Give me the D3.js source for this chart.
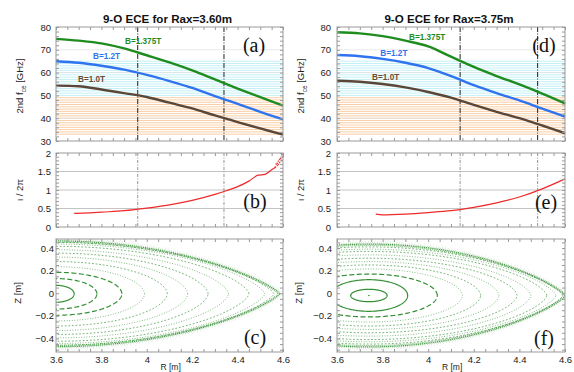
<!DOCTYPE html>
<html>
<head>
<meta charset="utf-8">
<script src="https://cdn.jsdelivr.net/npm/d3@7"></script>
<style>
  body { margin: 0; background: #fff; }
  svg { display: block; font-family: Arial, "Liberation Sans", sans-serif; }
  .minor line { stroke: #999; }
  .minor .domain { display: none; }
  .lbl .domain { display: none; }
  .lbl text { fill: #222; font-size: 9.5px; }
</style>
</head>
<body>
<div id="chart"></div>
<script>
// ---- data ----
const rSample = [3.6, 3.7, 3.8, 3.9, 4.0, 4.1, 4.2, 4.3, 4.4, 4.5, 4.6];

// 2nd harmonic ECE frequency [GHz], Rax = 3.60 m
const fceA_B1375 = [74.8, 74.0, 72.8, 70.6, 67.6, 64.5, 61.0, 57.0, 53.0, 49.2, 45.5];
const fceA_B12 = [65.0, 64.3, 63.0, 61.3, 59.0, 56.3, 53.3, 49.7, 46.3, 42.8, 39.5];
const fceA_B10 = [54.3, 54.0, 52.6, 51.0, 49.3, 46.8, 44.3, 41.2, 38.3, 35.5, 32.8];
// Rax = 3.75 m
const fceD_B1375 = [77.7, 77.2, 76.0, 74.0, 71.5, 67.0, 62.5, 58.5, 54.8, 50.8, 46.5];
const fceD_B12 = [67.7, 67.2, 66.0, 64.3, 62.0, 58.5, 54.5, 51.0, 47.8, 44.2, 40.7];
const fceD_B10 = [56.4, 56.0, 55.0, 53.5, 51.5, 49.0, 45.8, 42.8, 40.0, 36.8, 33.4];

const bandCyan = [50, 65];
const bandOrange = [33, 49];
const vlinesA = [3.96, 4.34];
const vlinesD = [4.14, 4.48];

// rotational transform iota / 2pi
const iotaR_B = [3.68, 3.75, 3.8, 3.9, 4.0, 4.1, 4.2, 4.3, 4.35, 4.4, 4.45, 4.49, 4.52, 4.55, 4.57];
const iota_B = [0.37, 0.38, 0.40, 0.44, 0.51, 0.60, 0.72, 0.88, 0.98, 1.09, 1.24, 1.40, 1.42, 1.55, 1.62];
const iotaScatterR_B = [4.565, 4.57, 4.575, 4.58, 4.585, 4.59, 4.595, 4.6, 4.575, 4.585, 4.595, 4.58];
const iotaScatter_B = [1.62, 1.70, 1.66, 1.78, 1.74, 1.85, 1.80, 1.90, 1.72, 1.83, 1.95, 1.69];
const iotaR_E = [3.77, 3.8, 3.9, 4.0, 4.1, 4.2, 4.3, 4.4, 4.5, 4.6];
const iota_E = [0.35, 0.33, 0.35, 0.39, 0.44, 0.53, 0.65, 0.81, 1.03, 1.30];

// Poincare plot: flux surfaces (outer R extent from axis, half height)
const raxC = 3.60;
const surfC_aR = [0.08, 0.18, 0.29, 0.39, 0.49, 0.58, 0.67, 0.76, 0.85, 0.92, 0.96];
const surfC_h = [0.075, 0.135, 0.19, 0.24, 0.285, 0.325, 0.36, 0.39, 0.42, 0.44, 0.455];
const edgeC = {aR: 0.985, h: 0.468};
const raxF = 3.74;
const surfF_aR = [0.08, 0.17, 0.30, 0.41, 0.49, 0.57, 0.65, 0.71, 0.78, 0.82, 0.85];
const surfF_h = [0.055, 0.14, 0.19, 0.235, 0.27, 0.30, 0.33, 0.36, 0.39, 0.41, 0.43];
const edgeF = {aR: 0.862, h: 0.455};

const xTicks = [3.6, 3.8, 4.0, 4.2, 4.4, 4.6];

// ---- layout ----
const svg = d3.select('#chart').append('svg').attr('width', 574).attr('height', 372);
const cols = [{left: 56, right: 283}, {left: 337, right: 565}];
const rowFce = [27, 141], rowIota = [153, 227], rowPc = [239, 352];

const green = '#1e8c1e', blue = '#2f74ee', brown = '#5a4738';
const pcGreen = '#2a8a2a';

const panels = [
  {title: '9-O ECE for Rax=3.60m', fce: [fceA_B1375, fceA_B12, fceA_B10], vlines: vlinesA,
   blabels: [[3.904, 72.4], [3.763, 65.8], [3.697, 56.0]],
   iotaR: iotaR_B, iota: iota_B, scatterR: iotaScatterR_B, scatter: iotaScatter_B,
   rax: raxC, aR: surfC_aR, h: surfC_h, edge: edgeC, zc: -0.005, solid: 1,
   letters: [['(a)', 254, 52], ['(b)', 255, 208], ['(c)', 255, 344]], tickPad: 5},
  {title: '9-O ECE for Rax=3.75m', fce: [fceD_B1375, fceD_B12, fceD_B10], vlines: vlinesD,
   blabels: [[3.916, 74.3], [3.79, 67.1], [3.754, 56.9]],
   iotaR: iotaR_E, iota: iota_E, scatterR: [], scatter: [],
   rax: raxF, aR: surfF_aR, h: surfF_h, edge: edgeF, zc: -0.02, solid: 2,
   letters: [['(d)', 544, 52], ['(e)', 546, 209], ['(f)', 544, 345]], tickPad: 6}
];

function minorTicks(g, x, y, xMinor, yMinor) {
  const [x0, x1] = x.range();
  const [yb, yt] = y.range();
  g.append('g').attr('class', 'minor').attr('transform', `translate(0,${yb})`)
    .call(d3.axisBottom(x).tickValues(xMinor).tickSize(-3).tickFormat(''));
  g.append('g').attr('class', 'minor').attr('transform', `translate(0,${yt})`)
    .call(d3.axisTop(x).tickValues(xMinor).tickSize(-3).tickFormat(''));
  g.append('g').attr('class', 'minor').attr('transform', `translate(${x0},0)`)
    .call(d3.axisLeft(y).tickValues(yMinor).tickSize(-3).tickFormat(''));
  g.append('g').attr('class', 'minor').attr('transform', `translate(${x1},0)`)
    .call(d3.axisRight(y).tickValues(yMinor).tickSize(-3).tickFormat(''));
}

function frame(g, x, y) {
  g.append('rect')
    .attr('x', x.range()[0]).attr('y', y.range()[1])
    .attr('width', x.range()[1] - x.range()[0]).attr('height', y.range()[0] - y.range()[1])
    .attr('fill', 'none').attr('stroke', '#999').attr('stroke-width', 1);
}

function surfacePoints(rax, aR, h, zc, n) {
  return d3.range(0, 360.1, 1.5).map(deg => {
    const t = deg * Math.PI / 180, s = Math.sin(t);
    return [rax + aR * Math.cos(t), zc + h * Math.sign(s) * Math.pow(Math.abs(s), 2 / n)];
  });
}

panels.forEach((p, ci) => {
  const col = cols[ci];
  const g = svg.append('g');
  const x = d3.scaleLinear().domain([3.6, 4.6]).range([col.left, col.right]);
  const cx = (col.left + col.right) / 2;

  g.append('text').attr('x', cx - 2).attr('y', 22.5).attr('text-anchor', 'middle')
    .attr('font-size', 11.6).attr('font-weight', 'bold').attr('fill', '#111').text(p.title);

  // ---- frequency panel ----
  const yF = d3.scaleLinear().domain([30, 80]).range([rowFce[1], rowFce[0]]);
  const stripes = g.append('g');
  stripes.selectAll('.cy').data(d3.range(bandCyan[0], bandCyan[1] + 0.01, 1)).join('line')
    .attr('x1', x(3.6)).attr('x2', x(4.6)).attr('y1', d => yF(d)).attr('y2', d => yF(d))
    .attr('stroke', '#c4f0f7').attr('stroke-width', 1);
  stripes.selectAll('.or').data(d3.range(bandOrange[0], bandOrange[1] + 0.01, 1)).join('line')
    .attr('x1', x(3.6)).attr('x2', x(4.6)).attr('y1', d => yF(d)).attr('y2', d => yF(d))
    .attr('stroke', '#fbcfa6').attr('stroke-width', 1);
  g.selectAll(null).data([40, 60, 70]).join('line')
    .attr('x1', x(3.6)).attr('x2', x(4.6)).attr('y1', d => yF(d)).attr('y2', d => yF(d))
    .attr('stroke', '#e2e2e2').attr('stroke-width', 0.8);

  g.selectAll(null).data(p.vlines).join('line')
    .attr('x1', d => x(d)).attr('x2', d => x(d)).attr('y1', yF(80)).attr('y2', yF(30))
    .attr('stroke', '#222').attr('stroke-width', 1).attr('stroke-dasharray', '5,1.5,1,1.5');

  const line = d3.line().x((d, i) => x(rSample[i])).y(d => yF(d)).curve(d3.curveCatmullRom);
  [green, blue, brown].forEach((c, i) => {
    g.append('path').attr('d', line(p.fce[i])).attr('fill', 'none')
      .attr('stroke', c).attr('stroke-width', 2.4);
  });
  const bnames = ['B=1.375T', 'B=1.2T', 'B=1.0T'];
  const bcols = [green, blue, '#6b4a32'];
  p.blabels.forEach((b, i) => {
    g.append('text').attr('x', x(b[0])).attr('y', yF(b[1])).attr('font-size', 8.2)
      .attr('font-weight', 'bold').attr('fill', bcols[i]).text(bnames[i]);
  });

  minorTicks(g, x, yF, d3.range(3.6, 4.601, 0.05), d3.range(30, 80.1, 2));
  frame(g, x, yF);
  g.append('g').attr('class', 'lbl').attr('transform', `translate(${col.left},0)`)
    .call(d3.axisLeft(yF).tickValues([30, 40, 50, 60, 70, 80]).tickSize(0).tickPadding(p.tickPad));

  // ---- iota panel ----
  const yI = d3.scaleLinear().domain([0, 2]).range([rowIota[1], rowIota[0]]);
  g.selectAll(null).data([0.5, 1, 1.5]).join('line')
    .attr('x1', x(3.6)).attr('x2', x(4.6)).attr('y1', d => yI(d)).attr('y2', d => yI(d))
    .attr('stroke', '#c4c4c4').attr('stroke-width', 1);
  g.selectAll(null).data(p.vlines).join('line')
    .attr('x1', d => x(d)).attr('x2', d => x(d)).attr('y1', yI(2)).attr('y2', yI(0))
    .attr('stroke', '#888').attr('stroke-width', 0.9).attr('stroke-dasharray', '3,1.5,1,1.5');
  const iotaLine = d3.line().x((d, i) => x(p.iotaR[i])).y(d => yI(d)).curve(d3.curveMonotoneX);
  g.append('path').attr('d', iotaLine(p.iota)).attr('fill', 'none')
    .attr('stroke', '#ee2a2a').attr('stroke-width', 1.2);
  g.selectAll(null).data(p.scatter).join('rect')
    .attr('x', (d, i) => x(p.scatterR[i]) - 0.7).attr('y', d => yI(d) - 0.7)
    .attr('width', 1.4).attr('height', 1.4).attr('fill', '#f04040');
  minorTicks(g, x, yI, d3.range(3.6, 4.601, 0.05), d3.range(0, 2.01, 0.1));
  frame(g, x, yI);
  g.append('g').attr('class', 'lbl').attr('transform', `translate(${col.left},0)`)
    .call(d3.axisLeft(yI).tickValues([0, 0.5, 1, 1.5, 2]).tickSize(0).tickPadding(p.tickPad)
      .tickFormat(d3.format('~g')));

  // ---- Poincare panel ----
  const yP = d3.scaleLinear().domain([-0.52, 0.48]).range([rowPc[1], rowPc[0]]);
  const clipId = 'clip' + ci;
  g.append('clipPath').attr('id', clipId).append('rect')
    .attr('x', col.left).attr('y', rowPc[0]).attr('width', col.right - col.left)
    .attr('height', rowPc[1] - rowPc[0]);
  const pc = g.append('g').attr('clip-path', `url(#${clipId})`);
  const pline = d3.line().x(d => x(d[0])).y(d => yP(d[1]));
  const nS = p.aR.length;
  p.aR.forEach((a, i) => {
    const n = 2 - 0.75 * Math.pow(i / nS, 1.5);
    const dash = i < p.solid ? null : i < 3 ? '5,2.5' : i % 2 ? '0.9,1.7' : '1.8,1.8';
    pc.append('path').attr('d', pline(surfacePoints(p.rax, a, p.h[i], p.zc, n)))
      .attr('fill', 'none').attr('stroke', pcGreen)
      .attr('stroke-width', i < 3 ? 1.2 : 0.9)
      .attr('stroke-opacity', i < 3 ? 0.95 : 0.7)
      .attr('stroke-dasharray', dash);
  });
  // stochastic edge layer
  [[0.975, 0.9, '1,1', 0.75], [1.0, 1.3, '1.2,0.7', 0.85], [1.025, 0.8, '0.7,1.5', 0.5],
   [1.05, 0.7, '0.6,2.5', 0.35], [1.08, 0.6, '0.5,4', 0.25]].forEach(s => {
    pc.append('path')
      .attr('d', pline(surfacePoints(p.rax, p.edge.aR * (1 + (s[0] - 1) * 0.35), p.edge.h * s[0], p.zc, 1.25)))
      .attr('fill', 'none').attr('stroke', pcGreen).attr('stroke-width', s[1])
      .attr('stroke-dasharray', s[2]).attr('stroke-opacity', s[3]);
  });
  if (ci === 1) {
    pc.append('circle').attr('cx', x(p.rax)).attr('cy', yP(p.zc)).attr('r', 0.8).attr('fill', pcGreen);
  }
  minorTicks(g, x, yP, d3.range(3.6, 4.601, 0.05), d3.range(-0.5, 0.481, 0.05));
  frame(g, x, yP);
  g.append('g').attr('class', 'lbl').attr('transform', `translate(${col.left},0)`)
    .call(d3.axisLeft(yP).tickValues([-0.4, -0.2, 0, 0.2, 0.4]).tickSize(0).tickPadding(ci ? 5 : 2)
      .tickFormat(d3.format('~g')));
  g.append('g').attr('class', 'lbl').attr('transform', `translate(0,${rowPc[1]})`)
    .call(d3.axisBottom(x).tickValues(xTicks).tickSize(0).tickPadding(4).tickFormat(d3.format('~g')));

  // axis titles
  const yl = g.append('text').attr('transform', `translate(${col.left - 33},86) rotate(-90)`)
    .attr('text-anchor', 'middle').attr('font-size', 9.5).attr('fill', '#222');
  yl.append('tspan').text('2nd f');
  yl.append('tspan').attr('font-size', 6.5).attr('dy', 2.5).text('ce');
  yl.append('tspan').attr('dy', -2.5).text(' [GHz]');
  g.append('text').attr('transform', `translate(${col.left - 33},190) rotate(-90)`)
    .attr('text-anchor', 'middle').attr('font-size', 9.5).attr('fill', '#222').text('\u03b9 / 2\u03c0');
  g.append('text').attr('transform', `translate(${col.left - 35},293) rotate(-90)`)
    .attr('text-anchor', 'middle').attr('font-size', 9.5).attr('fill', '#222').text('Z [m]');
  g.append('text').attr('x', x(4.105)).attr('y', 370).attr('text-anchor', 'middle')
    .attr('font-size', 8.5).attr('fill', '#222').text('R  [m]');

  p.letters.forEach(l => {
    g.append('text').attr('x', l[1]).attr('y', l[2]).attr('text-anchor', 'middle')
      .attr('font-family', '"Liberation Serif", "Times New Roman", serif')
      .attr('font-size', 20).attr('fill', '#111').text(l[0]);
  });
});
</script>
</body>
</html>
